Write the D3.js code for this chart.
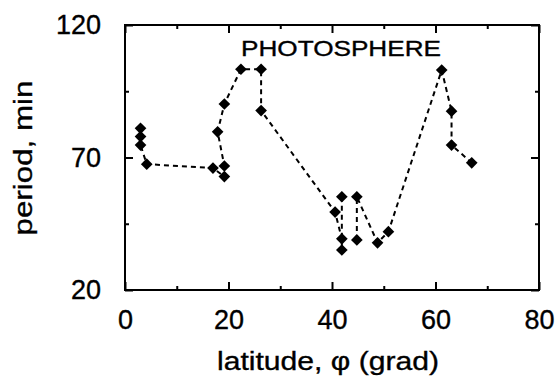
<!DOCTYPE html>
<html><head><meta charset="utf-8">
<script src="https://cdn.jsdelivr.net/npm/d3@7"></script>
<style>body{margin:0;background:#fff}svg{display:block}text{font-family:"Liberation Sans",Arial,sans-serif;fill:#000;stroke:#000;stroke-width:0.35px}</style>
</head><body><svg id="c" width="558" height="389"></svg>
<script>
// latitude (deg) and period (min), in the order the dashed line joins them
const latitude = [3.0, 3.0, 3.0, 4.2, 17.0, 19.2, 19.2, 17.9, 19.2, 22.4, 26.3, 26.3, 40.6, 41.9, 41.9, 41.9, 44.8, 44.8, 48.8, 50.9, 61.2, 63.1, 63.1, 67.0];
const period   = [81.0, 77.9, 74.7, 67.5, 66.0, 62.8, 66.8, 79.7, 90.2, 103.3, 103.3, 87.7, 49.4, 39.3, 35.1, 55.2, 38.9, 55.2, 37.8, 42.0, 103.0, 87.5, 74.7, 68.0];
// pen lifts: index after which the dashed line is broken
const breaks = [15];
const xTicks = [0, 20, 40, 60, 80];
const xMinor = [10, 30, 50, 70];
const yTicks = [20, 70, 120];
const yMinor = [45, 95];
const title = "PHOTOSPHERE";
const xLabel = "latitude, \u03C6 (grad)";
const yLabel = "period, min";

const svg = d3.select("#c");
const L = 125, R = 539, T = 25, B = 290;
const x = d3.scaleLinear().domain([0, 80]).range([L, R]);
const y = d3.scaleLinear().domain([20, 120]).range([B, T]);

// frame
svg.append("rect").attr("x", L).attr("y", T).attr("width", R - L).attr("height", B - T)
  .attr("fill", "none").attr("stroke", "#000").attr("stroke-width", 2);

// axes with inward ticks
const ax = (gen, tr) => svg.append("g").attr("transform", tr).call(gen).call(g => g.select(".domain").remove());
const tickStyle = g => g.selectAll("line").attr("stroke", "#000").attr("stroke-width", 2);

ax(d3.axisBottom(x).tickValues(xTicks).tickSize(-8).tickPadding(20).tickFormat(d3.format("d")), `translate(0,${B})`)
  .call(tickStyle).call(g => g.selectAll("text").attr("font-size", 27).attr("dy", "0.71em"));
ax(d3.axisBottom(x).tickValues(xMinor).tickSize(-4).tickFormat(""), `translate(0,${B})`).call(tickStyle);
ax(d3.axisTop(x).tickValues(xTicks).tickSize(-8).tickFormat(""), `translate(0,${T})`).call(tickStyle);
ax(d3.axisTop(x).tickValues(xMinor).tickSize(-4).tickFormat(""), `translate(0,${T})`).call(tickStyle);

ax(d3.axisLeft(y).tickValues(yTicks).tickSize(-8).tickPadding(24).tickFormat(d3.format("d")), `translate(${L},0)`)
  .call(tickStyle).call(g => g.selectAll("text").attr("font-size", 27));
ax(d3.axisLeft(y).tickValues(yMinor).tickSize(-4).tickFormat(""), `translate(${L},0)`).call(tickStyle);
ax(d3.axisRight(y).tickValues(yTicks).tickSize(-8).tickFormat(""), `translate(${R},0)`).call(tickStyle);
ax(d3.axisRight(y).tickValues(yMinor).tickSize(-4).tickFormat(""), `translate(${R},0)`).call(tickStyle);
svg.selectAll(".tick text").attr("fill", "#000").attr("font-family", "Liberation Sans, Arial, sans-serif");

// data
const pts = latitude.map((v, i) => ({x: v, y: period[i], i}));
const line = d3.line().x(d => x(d.x)).y(d => y(d.y));
let segs = [], start = 0;
breaks.concat([pts.length - 1]).forEach(b => { segs.push(pts.slice(start, b + 1)); start = b + 1; });
segs = segs.filter(s => s.length > 1);
svg.selectAll("path.ln").data(segs).join("path").attr("class", "ln")
  .attr("d", line).attr("fill", "none").attr("stroke", "#000")
  .attr("stroke-width", 2).attr("stroke-dasharray", "5,4");

svg.selectAll("path.pt").data(pts).join("path").attr("class", "pt")
  .attr("d", d3.symbol().type(d3.symbolSquare).size(68))
  .attr("transform", d => `translate(${x(d.x)},${y(d.y)}) rotate(45)`)
  .attr("fill", "#000");

// texts
svg.append("text").attr("x", 341).attr("y", 56).attr("text-anchor", "middle")
  .attr("font-size", 22).attr("textLength", 200).attr("lengthAdjust", "spacingAndGlyphs").text(title);
svg.append("text").attr("x", 328).attr("y", 370).attr("text-anchor", "middle")
  .attr("font-size", 26).attr("textLength", 222).attr("lengthAdjust", "spacingAndGlyphs").text(xLabel);
svg.append("text").attr("transform", "translate(32,158) rotate(-90)").attr("text-anchor", "middle")
  .attr("font-size", 26).attr("textLength", 155).attr("lengthAdjust", "spacingAndGlyphs").text(yLabel);
</script></body></html>
